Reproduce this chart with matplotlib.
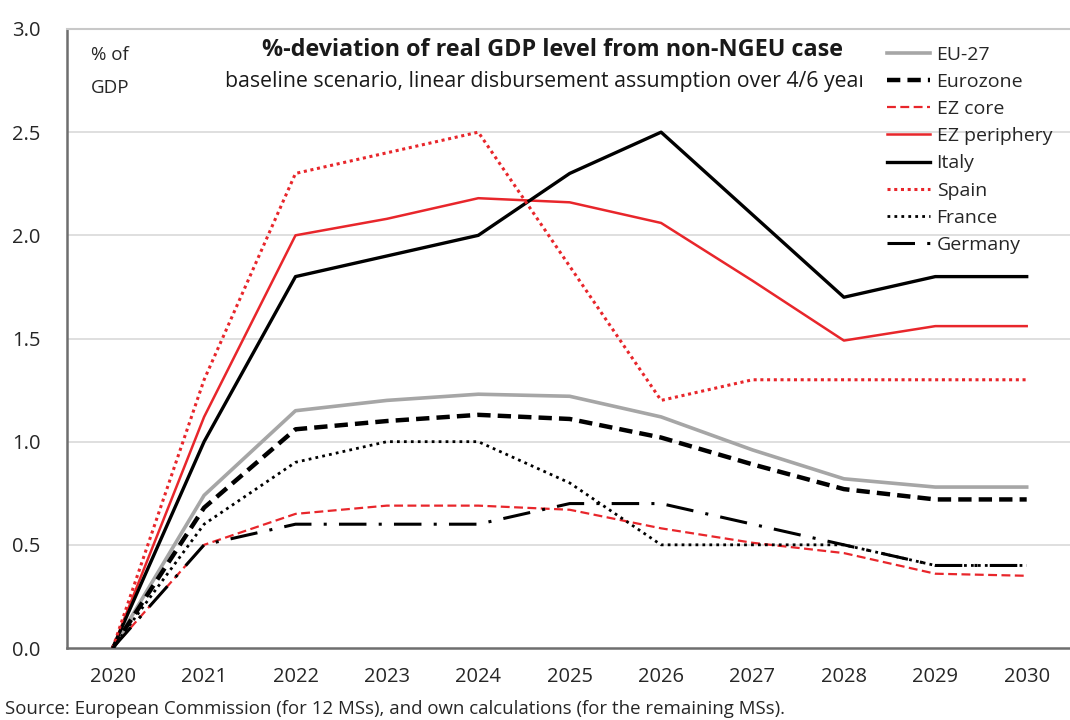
import matplotlib
matplotlib.use("Agg")
import matplotlib.pyplot as plt
from matplotlib.transforms import Bbox

plt.rcParams['font.family'] = ['Open Sans', 'DejaVu Sans']

years = [2020, 2021, 2022, 2023, 2024, 2025, 2026, 2027, 2028, 2029, 2030]

eu27 = [0, 0.74, 1.15, 1.20, 1.23, 1.22, 1.12, 0.96, 0.82, 0.78, 0.78]
eurozone = [0, 0.68, 1.06, 1.10, 1.13, 1.11, 1.02, 0.89, 0.77, 0.72, 0.72]
ez_core = [0, 0.50, 0.65, 0.69, 0.69, 0.67, 0.58, 0.51, 0.46, 0.36, 0.35]
ez_periphery = [0, 1.12, 2.00, 2.08, 2.18, 2.16, 2.06, 1.78, 1.49, 1.56, 1.56]
italy = [0, 1.00, 1.80, 1.90, 2.00, 2.30, 2.50, 2.10, 1.70, 1.80, 1.80]
spain = [0, 1.30, 2.30, 2.40, 2.50, 1.85, 1.20, 1.30, 1.30, 1.30, 1.30]
france = [0, 0.60, 0.90, 1.00, 1.00, 0.80, 0.50, 0.50, 0.50, 0.40, 0.40]
germany = [0, 0.50, 0.60, 0.60, 0.60, 0.70, 0.70, 0.60, 0.50, 0.40, 0.40]

W, H = 1070, 720
fig = plt.figure(figsize=(W / 100, H / 100), dpi=100)
ax = fig.add_axes([67 / W, (H - 648) / H, (W - 67) / W, (648 - 29) / H])

red = '#e8262b'
ax.plot(years, eu27, color='#a6a6a6', lw=2.6, label='EU-27', zorder=3)
ax.plot(years, eurozone, color='black', lw=3.2, dashes=(3, 1.6), label='Eurozone', zorder=3)
ax.plot(years, ez_core, color=red, lw=1.6, dashes=(4, 2), label='EZ core', zorder=3)
ax.plot(years, ez_periphery, color=red, lw=1.8, label='EZ periphery', zorder=3)
ax.plot(years, italy, color='black', lw=2.4, label='Italy', zorder=3)
ax.plot(years, spain, color=red, lw=2.2, dashes=(1, 1.2), label='Spain', zorder=3)
ax.plot(years, france, color='black', lw=2.0, dashes=(1, 1.5), label='France', zorder=3)
ax.plot(years, germany, color='black', lw=2.2, dashes=(9, 4, 1, 4), label='Germany', zorder=3)

ax.set_xlim(2019.5, 2019.5 + (W - 67) / 91.4)
ax.set_ylim(0, 3.0)
ax.set_xticks(years)
ax.set_xticklabels([str(y) for y in years])
ax.set_yticks([0, 0.5, 1.0, 1.5, 2.0, 2.5, 3.0])
ax.set_yticklabels(['0.0', '0.5', '1.0', '1.5', '2.0', '2.5', '3.0'])
ax.tick_params(axis='both', length=0, labelsize=14.5, colors='#262626')
ax.tick_params(axis='y', pad=19)
ax.tick_params(axis='x', pad=14)

for g in [0.5, 1.0, 1.5, 2.0, 2.5]:
    ax.axhline(g, color='#d9d9d9', lw=1.2, zorder=1)

ax.spines['right'].set_visible(False)
ax.spines['top'].set_color('#c8c8c8')
ax.spines['top'].set_linewidth(1.5)
ax.spines['left'].set_color('#6e6e6e')
ax.spines['bottom'].set_color('#6e6e6e')
ax.spines['left'].set_linewidth(1.8)
ax.spines['bottom'].set_linewidth(1.8)

ax.text(0.024, 0.972, '% of\nGDP', transform=ax.transAxes, ha='left', va='top',
        fontsize=13.5, color='#262626', linespacing=2.05, zorder=2)
fig.text(552 / W, 1 - 50 / H, '%-deviation of real GDP level from non-NGEU case',
         ha='center', va='center', fontsize=16.8, fontweight='bold', color='#1a1a1a')
sub = fig.text(225 / W, 1 - 82 / H, 'baseline scenario, linear disbursement assumption over 4/6 years',
               ha='left', va='center', fontsize=15.3, color='#1a1a1a', zorder=1)
# the legend box hides the end of the subtitle in the original
sub.set_clip_box(Bbox([[0, 0], [862, H]]))
sub.set_clip_on(True)
fig.text(5 / W, 1 - 709 / H,
         'Source: European Commission (for 12 MSs), and own calculations (for the remaining MSs).',
         ha='left', va='center', fontsize=13.4, color='#262626')

leg = fig.legend(loc='upper left', bbox_to_anchor=(881 / W, 1 - 40 / H), frameon=False,
                 fontsize=14, handlelength=2.2, handletextpad=0.36, labelspacing=0.47,
                 borderpad=0.3, borderaxespad=0)
for t in leg.get_texts():
    t.set_color('#262626')

fig.savefig('out.png', dpi=100)
